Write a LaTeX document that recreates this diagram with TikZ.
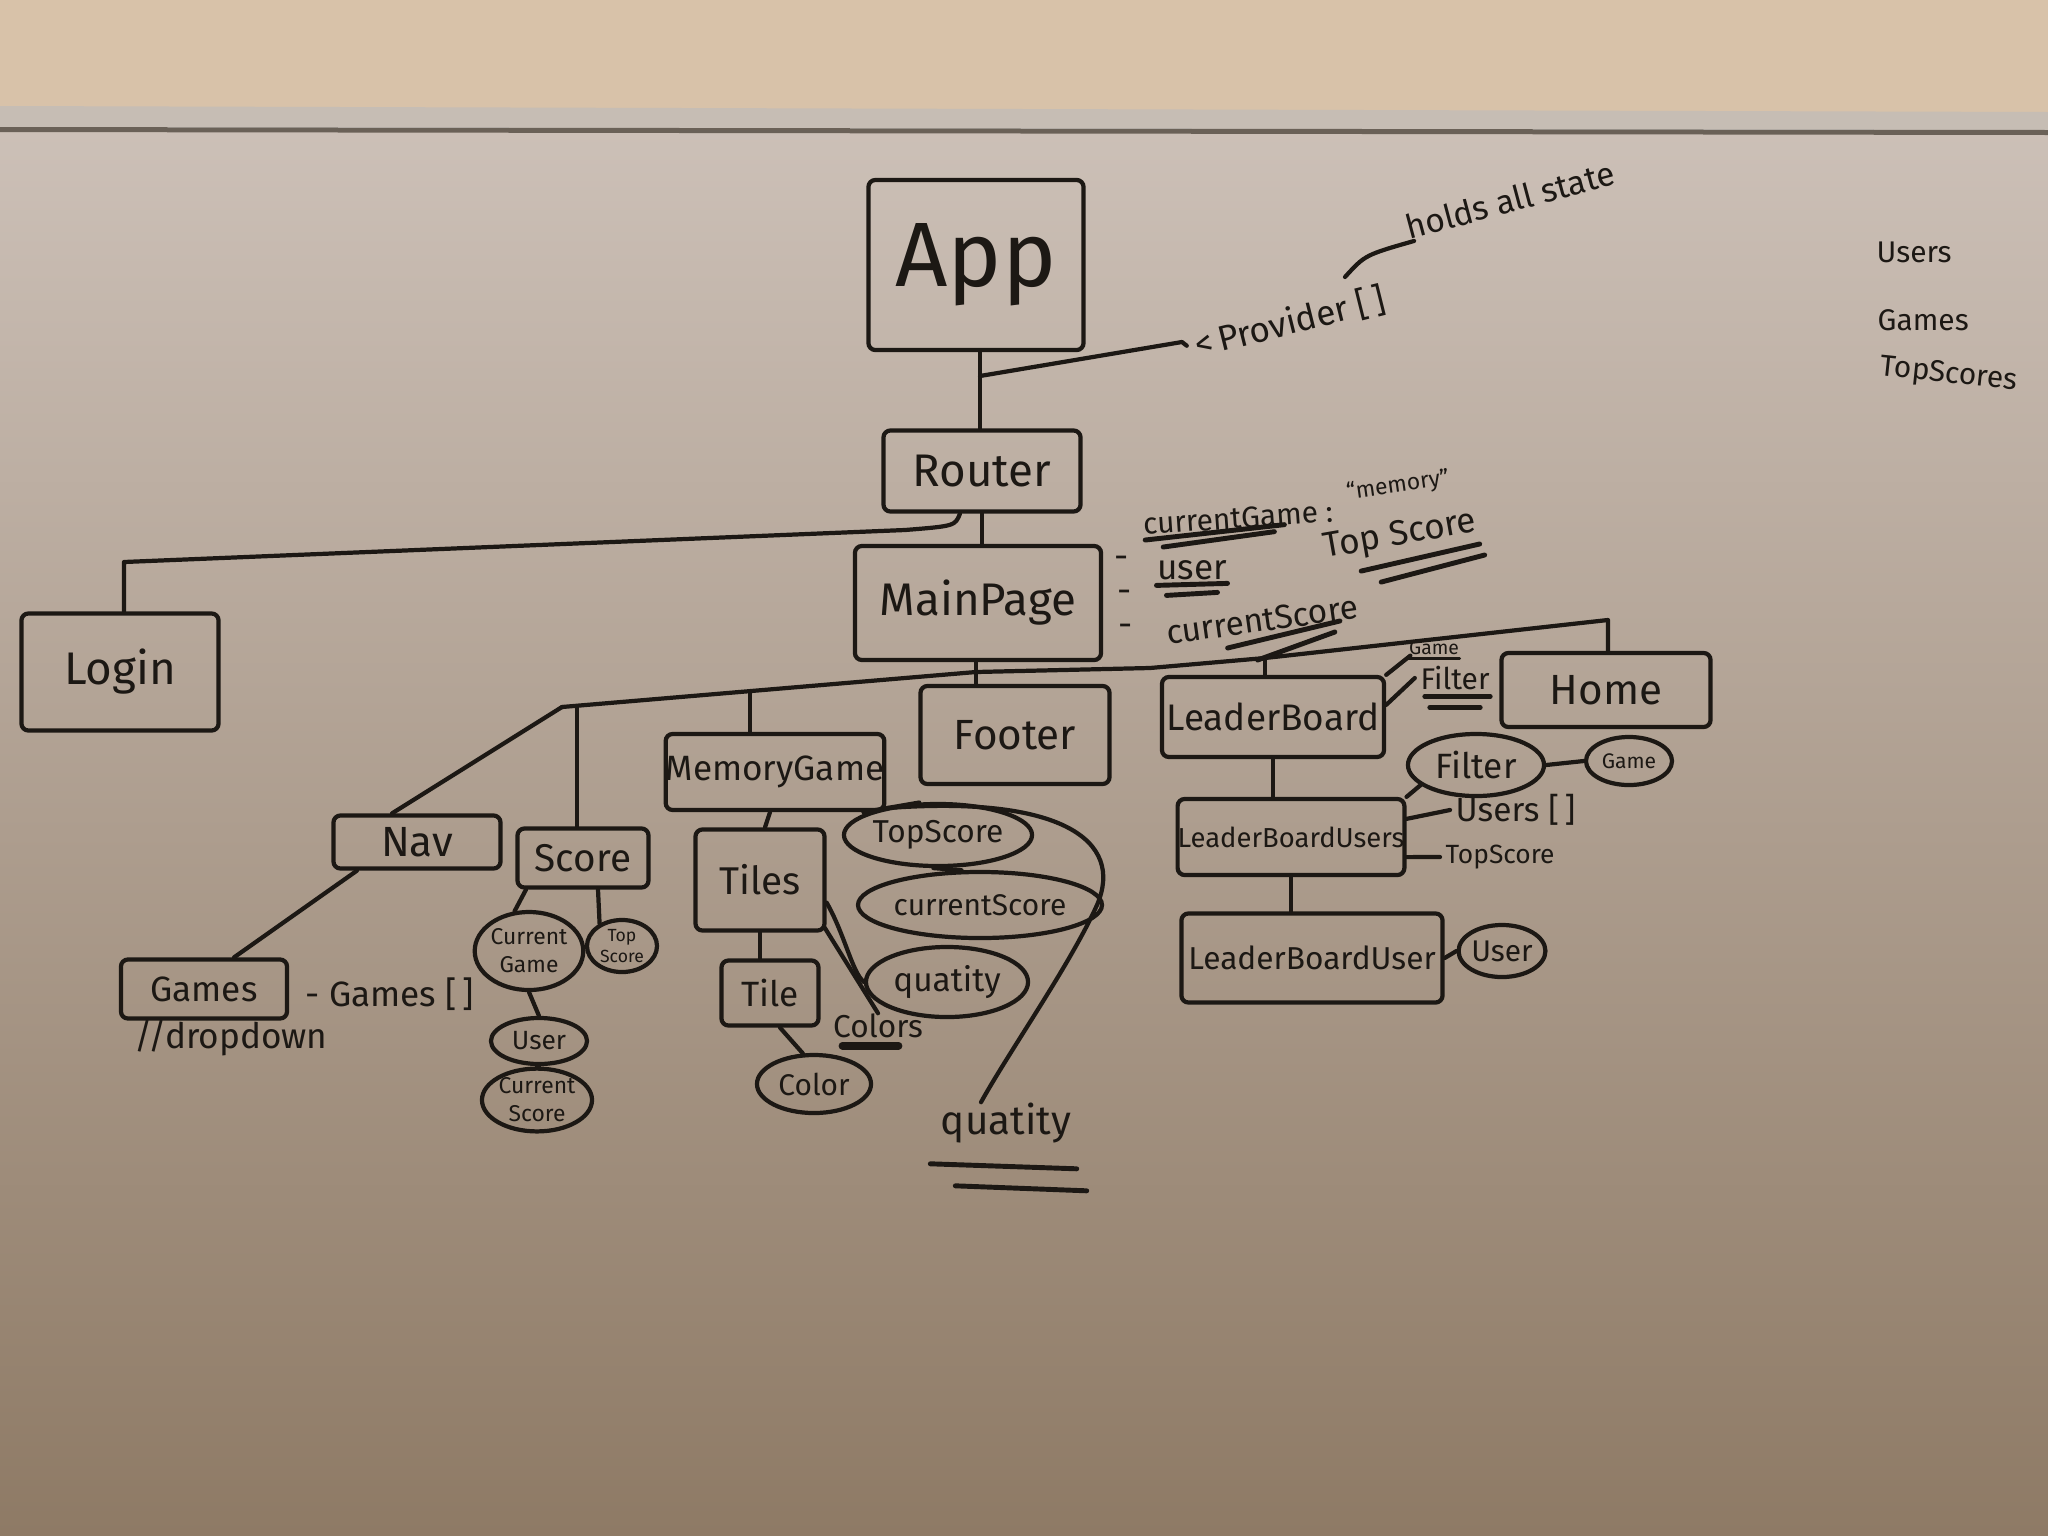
\documentclass[tikz,border=0pt]{standalone}
\usepackage{fontspec}
\setmainfont{Fira Sans}
\usetikzlibrary{shapes.geometric}
\definecolor{ink}{HTML}{1C1814}
\definecolor{wallc}{HTML}{D8C2A9}
\definecolor{framel}{HTML}{C6BDB4}
\definecolor{framed}{HTML}{6A6157}
\definecolor{boardtop}{HTML}{CCC0B7}
\definecolor{boardmid}{HTML}{BDAD9F}
\definecolor{boardbot}{HTML}{8E7A65}
\newcommand{\hsz}[1]{\fontsize{#1}{#1}\selectfont}
\newcommand{\hszb}[2]{\fontsize{#1}{#2}\selectfont}
\begin{document}
\begin{tikzpicture}[x=0.01cm,y=-0.01cm,
  every node/.style={text=ink, inner sep=0pt},
  box/.style={draw=ink, line width=1.2pt, rectangle, rounded corners=2pt, align=center},
  oval/.style={draw=ink, line width=1.2pt, ellipse, align=center},
  wire/.style={draw=ink, line width=1.2pt, line cap=round, line join=round},
  uline/.style={draw=ink, line width=1.4pt, line cap=round},
  note/.style={align=center}]
\useasboundingbox (0,0) rectangle (2048,1536);
% background: wall, frame, board
\fill[wallc] (0,0) rectangle (2048,125);
\shade[top color=boardtop, middle color=boardmid, bottom color=boardbot] (0,130) rectangle (2048,1536);
\fill[framel] (0,106) -- (2048,112) -- (2048,130) -- (0,127) -- cycle;
\fill[framed] (0,127) -- (2048,130) -- (2048,135) -- (0,132) -- cycle;

% ---------- boxes ----------
\node[box, minimum width=2.15cm, minimum height=1.70cm, font=\hsz{26}] (App) at (976,265) {App};
\node[box, minimum width=1.97cm, minimum height=0.81cm, font=\hsz{13}] (Router) at (982,471) {Router};
\node[box, minimum width=1.97cm, minimum height=1.17cm, font=\hsz{13}] (Login) at (120,672) {Login};
\node[box, minimum width=2.46cm, minimum height=1.14cm, font=\hsz{13}] (MainPage) at (978,603) {MainPage};
\node[box, minimum width=1.67cm, minimum height=0.53cm, font=\hsz{12}] (Nav) at (417,842) {Nav};
\node[box, minimum width=1.31cm, minimum height=0.59cm, font=\hsz{11}] (Score) at (583,858) {Score};
\node[box, minimum width=2.05cm, minimum height=0.76cm, font=\hsz{10}] (MemoryGame) at (775,772) {MemoryGame};
\node[box, minimum width=1.89cm, minimum height=0.98cm, font=\hsz{12}] (Footer) at (1015,735) {Footer};
\node[box, minimum width=2.22cm, minimum height=0.80cm, font=\hsz{10.5}] (LeaderBoard) at (1273,717) {LeaderBoard};
\node[box, minimum width=2.09cm, minimum height=0.74cm, font=\hsz{12}] (Home) at (1606,690) {Home};
\node[box, minimum width=2.18cm, minimum height=0.76cm, font=\hsz{7.8}] (LBUsers) at (1291,837) {LeaderBoardUsers};
\node[box, minimum width=2.61cm, minimum height=0.89cm, font=\hsz{9}] (LBUser) at (1312,958) {LeaderBoardUser};
\node[box, minimum width=1.66cm, minimum height=0.59cm, font=\hsz{10}] (Games) at (204,989) {Games};
\node[box, minimum width=1.29cm, minimum height=1.01cm, font=\hsz{11}] (Tiles) at (760,880) {Tiles};
\node[box, minimum width=0.97cm, minimum height=0.65cm, font=\hsz{10}] (Tile) at (770,993) {Tile};

% ---------- ellipses ----------
\node[oval, minimum width=1.36cm, minimum height=0.62cm, font=\hsz{10}] (FilterE) at (1476,765) {Filter};
\node[oval, minimum width=0.86cm, minimum height=0.48cm, font=\hsz{6}] (GameE) at (1629,761) {Game};
\node[oval, minimum width=0.84cm, minimum height=0.52cm, font=\hsz{8.5}] (UserLB) at (1502,951) {User};
\node[oval, minimum width=1.00cm, minimum height=0.78cm, font=\hszb{6.5}{8}] (CGs) at (529,951) {Current\\Game};
\node[oval, minimum width=0.70cm, minimum height=0.52cm, font=\hszb{5}{6}] (TSs) at (622,946) {Top\\Score};
\node[oval, minimum width=0.96cm, minimum height=0.46cm, font=\hsz{7.5}] (Us) at (539,1041) {User};
\node[oval, minimum width=1.10cm, minimum height=0.58cm, font=\hszb{6.5}{8}] (CSs) at (537,1100) {Current\\Score};
\node[oval, minimum width=1.14cm, minimum height=0.58cm, font=\hsz{8.5}] (ColorE) at (814,1084) {Color};
\node[oval, minimum width=1.62cm, minimum height=0.70cm, font=\hsz{9.5}] (QE) at (947,982) {quatity};
\node[oval, minimum width=1.88cm, minimum height=0.62cm, font=\hsz{9}] (TSm) at (938,835) {TopScore};
\node[oval, minimum width=2.42cm, minimum height=0.66cm, font=\hsz{8.5}] (CSm) at (980,905) {currentScore};

% ---------- annotations ----------
\node[note, font=\hsz{10}, rotate=14] (tProv) at (1290,322) {<\,Provider [\,]};
\node[note, font=\hsz{9.5}, rotate=15] (tHolds) at (1510,200) {holds all state};
\node[note, font=\hsz{8.5}, rotate=4] (tCG) at (1238,518) {currentGame :};
\node[note, font=\hsz{6.5}, rotate=8] (tMem) at (1398,486) {``memory''};
\node[note, font=\hsz{10}] (tUser) at (1192,570) {user};
\node[note, font=\hsz{9.5}, rotate=8] (tCS) at (1262,620) {currentScore};
\node[note, font=\hsz{10}, rotate=10] (tTop) at (1400,536) {Top Score};
\node[note, font=\hsz{10}] (d1) at (1122,562) {-};
\node[note, font=\hsz{10}] (d2) at (1125,596) {-};
\node[note, font=\hsz{10}] (d3) at (1126,630) {-};
\node[note, font=\hsz{5.5}] (tGameA) at (1434,648) {Game};
\node[note, font=\hsz{8.5}] (tFilterA) at (1455,678) {Filter};
\node[note, font=\hsz{9.5}, anchor=west] (tUsers) at (1455,810) {Users [\,]};
\node[note, font=\hsz{7.5}, anchor=west] (tTS) at (1445,857) {TopScore};
\node[note, font=\hsz{10}, anchor=west] (tGames) at (305,994) {- Games [\,]};
\node[note, font=\hsz{10}] (tDrop) at (231,1038) {//dropdown};
\node[note, font=\hsz{9}] (tColors) at (878,1026) {Colors};
\node[note, font=\hsz{11.5}] (tQ) at (1006,1123) {quatity};
\node[note, font=\hsz{8.5}, anchor=west] (tR1) at (1876,252) {Users};
\node[note, font=\hsz{8.5}, anchor=west] (tR2) at (1877,320) {Games};
\node[note, font=\hsz{8.5}, anchor=west, rotate=-6] (tR3) at (1880,368) {TopScores};

% underlines
\draw[uline] ([xshift=0.02cm,yshift=-0.04cm]tCG.south west) -- ([xshift=-0.5cm,yshift=-0.02cm]tCG.south east);
\draw[uline] ([xshift=0.2cm,yshift=-0.11cm]tCG.south west) -- ([xshift=-0.6cm,yshift=-0.09cm]tCG.south east);
\draw[uline] ([yshift=-0.05cm]tUser.south west) -- ([yshift=-0.03cm]tUser.south east);
\draw[uline] ([xshift=0.1cm,yshift=-0.15cm]tUser.south west) -- ([xshift=-0.1cm,yshift=-0.12cm]tUser.south east);
\draw[uline] ([xshift=0.6cm,yshift=-0.02cm]tCS.south west) -- ([xshift=-0.2cm,yshift=-0.02cm]tCS.south east);
\draw[uline] ([xshift=0.9cm,yshift=-0.14cm]tCS.south west) -- ([xshift=-0.25cm,yshift=-0.13cm]tCS.south east);
\draw[uline] ([xshift=0.35cm,yshift=-0.05cm]tTop.south west) -- ([yshift=-0.05cm]tTop.south east);
\draw[uline] ([xshift=0.55cm,yshift=-0.16cm]tTop.south west) -- ([xshift=0.05cm,yshift=-0.16cm]tTop.south east);
\draw[uline, line width=0.9pt] ([yshift=-0.03cm]tGameA.south west) -- ([yshift=-0.03cm]tGameA.south east);
\draw[uline] ([xshift=0.05cm,yshift=-0.06cm]tFilterA.south west) -- ([yshift=-0.06cm]tFilterA.south east);
\draw[uline] ([xshift=0.1cm,yshift=-0.17cm]tFilterA.south west) -- ([xshift=-0.1cm,yshift=-0.17cm]tFilterA.south east);
\draw[uline, line width=2.2pt] ([xshift=0.1cm,yshift=-0.07cm]tColors.south west) -- ([xshift=-0.25cm,yshift=-0.07cm]tColors.south east);
\draw[uline] ([xshift=-0.1cm,yshift=-0.2cm]tQ.south west) -- ([xshift=0.05cm,yshift=-0.25cm]tQ.south east);
\draw[uline] ([xshift=0.15cm,yshift=-0.42cm]tQ.south west) -- ([xshift=0.15cm,yshift=-0.47cm]tQ.south east);

% ---------- connectors ----------
\coordinate (jApp) at (980,376);
\coordinate (jL) at (124,562);
\coordinate (jN) at (562,707);
\coordinate (jS) at (577,706);
\coordinate (jG) at (750,691);
\coordinate (jM) at (976,672);
\coordinate (jR) at (1265,658);
\coordinate (jH) at (1608,620);

\draw[wire] (App.south -| jApp) -- (jApp |- Router.north);
\draw[wire] (jApp) -- (1182,342) -- ([xshift=-0.08cm]tProv.west);
\draw[wire] (1345,277) .. controls (1365,255) .. ([xshift=0.05cm]tHolds.south west);
\draw[wire] (Router.south) -- (Router.south |- MainPage.north);
\draw[wire] ([xshift=-0.22cm]Router.south) .. controls (955,526) .. (905,530) -- (jL) -- (jL |- Login.north);
\draw[wire] (jM |- MainPage.south) -- (jM |- Footer.north);
\draw[wire] (jN) -- (jM) -- (1150,668) -- (jR) -- (jH) -- (jH |- Home.north);
\draw[wire] (jR) -- (jR |- LeaderBoard.north);
\draw[wire] (jN) -- ([xshift=-0.25cm]Nav.north);
\draw[wire] (jS) -- (jS |- Score.north);
\draw[wire] (jG) -- (jG |- MemoryGame.north);

\draw[wire] ([xshift=-0.6cm]Nav.south) -- ([xshift=0.3cm]Games.north);
\draw[wire] ([xshift=-0.57cm]Score.south) -- (CGs.110);
\draw[wire] ([xshift=0.15cm]Score.south) -- (TSs.135);
\draw[wire] (CGs.south) -- (Us.north);
\draw[wire] (Us.south) -- (CSs.north);

\draw[wire] ([xshift=-0.05cm]MemoryGame.south) -- ([xshift=0.05cm]Tiles.north);
\draw[wire] (Tiles.south) -- (Tiles.south |- Tile.north);
\draw[wire] ([xshift=0.1cm]Tile.south) -- (ColorE.110);
\draw[wire] ([xshift=-0.02cm,yshift=0.05cm]Tiles.south east) -- (tColors.north);
\draw[wire] ([yshift=0.3cm]Tiles.south east) .. controls (845,935) and (852,972) .. (QE.west);
\draw[wire] ([xshift=-0.23cm]MemoryGame.south east) -- (TSm.120);
\draw[wire] (TSm.262) -- (CSm.118);
\draw[wire] ([yshift=0.04cm]MemoryGame.south east) .. controls (1060,795) and (1125,840) .. (1097,905) .. controls (1070,965) and (1010,1050) .. ([xshift=-0.25cm]tQ.north);

\draw[wire] (LeaderBoard.north east) -- ([xshift=0.02cm]tGameA.south west);
\draw[wire] ([yshift=-0.3cm]LeaderBoard.north east) -- ([xshift=-0.05cm]tFilterA.west);
\draw[wire] (LeaderBoard.south) -- (LeaderBoard.south |- LBUsers.north);
\draw[wire] (LBUsers.north east) -- (FilterE.200);
\draw[wire] (FilterE.east) -- (GameE.west);
\draw[wire] ([yshift=-0.22cm]LBUsers.north east) -- ([xshift=-0.05cm]tUsers.west);
\draw[wire] ([yshift=0.2cm]LBUsers.south east) -- ([xshift=-0.05cm]tTS.west);
\draw[wire] (LBUsers.south) -- (LBUsers.south |- LBUser.north);
\draw[wire] (LBUser.east) -- (UserLB.west);
\end{tikzpicture}
\end{document}
